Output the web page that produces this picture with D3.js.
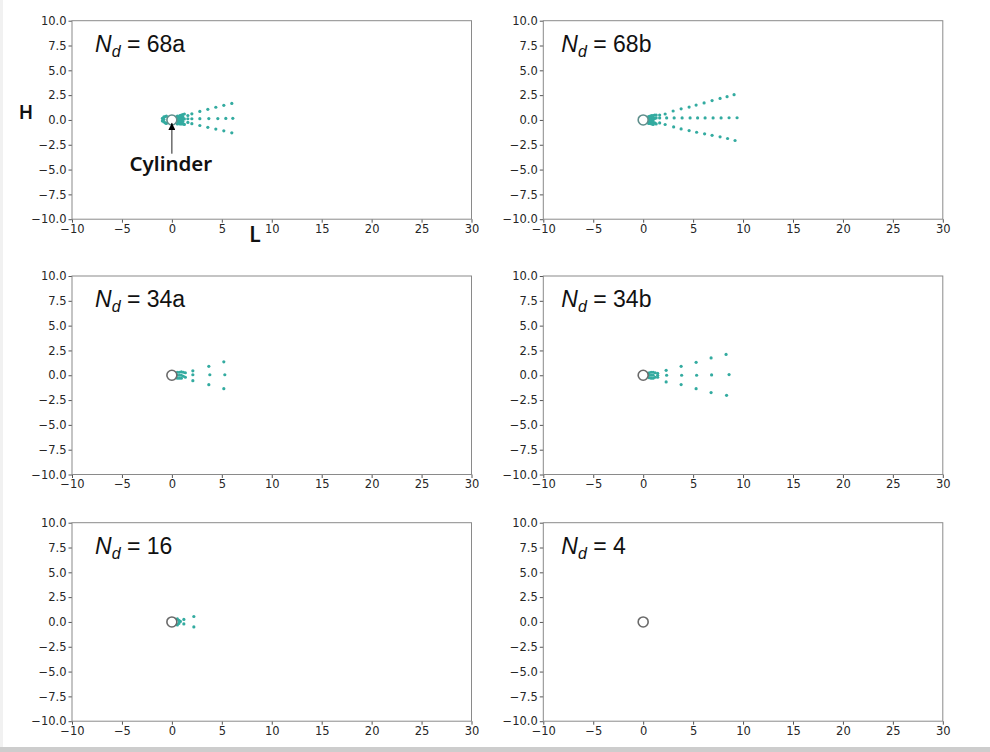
<!DOCTYPE html>
<html>
<head>
<meta charset="utf-8">
<script src="https://cdn.jsdelivr.net/npm/d3@7"></script>
<style>
  body { margin: 0; background: #fff; }
  .tick text { font-family: "DejaVu Sans", sans-serif; font-size: 11.5px; fill: #262626; }
</style>
</head>
<body>
<svg id="chart"></svg>
<script>
// panel labels (N_d values)
var panelNames = ["68a", "68b", "34a", "34b", "16", "4"];

// droplet positions [L, H]
var pts68a = [
  [-0.95, 0.15], [-0.95, -0.1], [-0.8, 0.3], [-0.8, 0.05], [-0.8, -0.2],
  [-0.65, 0.35], [-0.65, -0.3], [-0.55, 0.4], [-0.55, -0.35],
  [0.55, 0.4], [0.55, -0.4], [0.65, 0.3], [0.65, 0.1], [0.65, -0.1], [0.65, -0.3],
  [0.8, 0.45], [0.8, 0.2], [0.8, 0], [0.8, -0.2], [0.8, -0.4],
  [0.95, 0.5], [0.95, 0.25], [0.95, 0.05], [0.95, -0.15], [0.95, -0.4],
  [1.1, 0.55], [1.1, 0.3], [1.1, 0.1], [1.1, -0.15], [1.1, -0.4],
  [1.25, 0.6], [1.25, 0.1], [1.25, -0.45],
  [1.6, 0.45], [1.6, 0.12], [1.6, -0.25],
  [2.0, 0.62], [2.8, 0.86], [3.6, 1.07], [4.4, 1.28], [5.2, 1.47], [6.0, 1.67],
  [2.0, 0.12], [2.8, 0.13], [3.7, 0.14], [4.6, 0.14], [5.4, 0.15], [6.1, 0.16],
  [2.0, -0.38], [2.8, -0.56], [3.6, -0.74], [4.4, -0.92], [5.2, -1.1], [6.0, -1.3]
];
var pts68b = [
  [0.55, 0.35], [0.55, 0.1], [0.55, -0.15], [0.55, -0.35],
  [0.7, 0.4], [0.7, 0.15], [0.7, -0.1], [0.7, -0.35],
  [0.85, 0.45], [0.85, 0.2], [0.85, 0], [0.85, -0.2], [0.85, -0.4],
  [1.0, 0.45], [1.0, 0.2], [1.0, 0], [1.0, -0.25], [1.0, -0.45],
  [1.15, 0.5], [1.15, 0.15], [1.15, -0.3], [1.3, 0.5], [1.3, 0.2], [1.3, -0.4],
  [1.65, 0.5], [1.65, 0.2], [1.65, -0.3],
  [2.2, 0.6], [3.0, 0.9], [3.8, 1.12], [4.6, 1.3], [5.3, 1.5], [6.1, 1.72],
  [6.9, 1.95], [7.7, 2.17], [8.4, 2.35], [9.1, 2.55],
  [2.35, 0.2], [3.1, 0.2], [3.9, 0.2], [4.7, 0.2], [5.45, 0.2], [6.2, 0.2],
  [7.0, 0.2], [7.8, 0.2], [8.6, 0.22], [9.4, 0.22],
  [2.2, -0.46], [3.05, -0.7], [3.8, -0.9], [4.6, -1.07], [5.35, -1.24], [6.15, -1.4],
  [6.9, -1.55], [7.7, -1.7], [8.45, -1.87], [9.2, -2.07]
];
var pts34a = [
  [0.55, 0.3], [0.55, 0], [0.55, -0.3], [0.75, 0.3], [0.75, 0], [0.75, -0.3],
  [0.95, 0.35], [0.95, 0], [0.95, -0.3], [1.15, 0.3], [1.15, -0.1],
  [1.35, 0.25], [1.35, -0.2],
  [2.1, 0.45], [2.1, 0.05], [2.1, -0.55],
  [3.7, 0.9], [3.8, 0.05], [3.7, -0.95],
  [5.2, 1.35], [5.3, 0.05], [5.2, -1.35]
];
var pts34b = [
  [0.6, 0.25], [0.6, 0], [0.6, -0.25], [0.8, 0.3], [0.8, 0], [0.8, -0.3],
  [1.0, 0.3], [1.0, 0], [1.0, -0.3], [1.2, 0.25], [1.2, -0.2],
  [1.45, 0.2], [1.45, 0], [1.45, -0.2],
  [2.3, 0.5], [2.35, 0], [2.3, -0.67],
  [3.8, 0.9], [3.85, 0], [3.8, -0.94],
  [5.3, 1.3], [5.35, 0], [5.3, -1.35],
  [6.8, 1.75], [6.85, 0.03], [6.8, -1.75],
  [8.3, 2.1], [8.6, 0.07], [8.35, -2.02]
];
var pts16 = [
  [0.55, 0.3], [0.55, -0.3], [0.7, 0.15], [0.7, -0.15], [0.85, 0.05],
  [1.2, 0.25], [1.2, -0.2], [2.2, 0.55], [2.2, -0.5]
];
var pts4 = [];
var panelPoints = [pts68a, pts68b, pts34a, pts34b, pts16, pts4];

// cylinder centre and radius
var cylX = 0, cylY = 0, cylR = 0.5;

var xDomain = [-10, 30], yDomain = [-10, 10];
var xTicks = [-10, -5, 0, 5, 10, 15, 20, 25, 30];
var yTicks = [-10, -7.5, -5, -2.5, 0, 2.5, 5, 7.5, 10];

var W = 990, H = 752;
var colX = [72, 543.3], rowY = [20.7, 276, 522.7];
var pw = 399.5, ph = 198.5;
var teal = "#33aba0";

var svg = d3.select("#chart").attr("width", W).attr("height", H);

// photo frame edges
svg.append("rect").attr("width", W).attr("height", H).attr("fill", "#fff");
svg.append("rect").attr("x", 0).attr("y", 0).attr("width", 3).attr("height", H).attr("fill", "#f1f1f1");
svg.append("rect").attr("x", 0).attr("y", 747).attr("width", W).attr("height", 5).attr("fill", "#cdcdcd");

var minus = (s) => s.replace("-", "\u2212");

panelNames.forEach(function (name, i) {
  var col = i % 2, row = Math.floor(i / 2);
  var g = svg.append("g").attr("transform", `translate(${colX[col]},${rowY[row]})`);
  var x = d3.scaleLinear().domain(xDomain).range([0, pw]);
  var y = d3.scaleLinear().domain(yDomain).range([ph, 0]);

  var xa = g.append("g").attr("transform", `translate(0,${ph})`)
    .call(d3.axisBottom(x).tickValues(xTicks).tickSizeOuter(0).tickSize(3.5).tickPadding(2)
      .tickFormat((d) => minus(d3.format("d")(d))));
  var ya = g.append("g")
    .call(d3.axisLeft(y).tickValues(yTicks).tickSizeOuter(0).tickSize(3.5).tickPadding(2)
      .tickFormat((d) => minus(d3.format(".1f")(d))));
  [xa, ya].forEach(function (a) {
    a.select(".domain").remove();
    a.selectAll(".tick line").attr("stroke", "#555");
  });

  g.append("rect").attr("width", pw).attr("height", ph)
    .attr("fill", "none").attr("stroke", "#8a8a8a").attr("stroke-width", 1);

  g.selectAll("circle.drop").data(panelPoints[i]).enter().append("circle")
    .attr("class", "drop")
    .attr("cx", (d) => x(d[0])).attr("cy", (d) => y(d[1]))
    .attr("r", 1.6).attr("fill", teal);

  g.append("circle")
    .attr("cx", x(cylX)).attr("cy", y(cylY))
    .attr("r", x(cylX + cylR) - x(cylX))
    .attr("fill", "#fff").attr("stroke", i < 2 ? "#5f8f8c" : "#6a6a6a").attr("stroke-width", 1.6);

  var t = g.append("text").attr("x", col == 0 ? 23 : 18).attr("y", 31)
    .attr("font-family", "Liberation Sans, Arial, sans-serif").attr("font-size", 23).attr("fill", "#111");
  t.append("tspan").attr("font-style", "italic").text("N");
  t.append("tspan").attr("font-style", "italic").attr("font-size", 16).attr("dy", 5).text("d");
  t.append("tspan").attr("dy", -5).text(" = " + name);

  if (i == 0) {
    // cylinder annotation
    g.append("defs").append("marker").attr("id", "ah")
      .attr("viewBox", "0 0 10 10").attr("refX", 10).attr("refY", 5)
      .attr("markerWidth", 7).attr("markerHeight", 7).attr("orient", "auto")
      .append("path").attr("d", "M0,0L10,5L0,10Z").attr("fill", "#000");
    g.append("line")
      .attr("x1", x(cylX)).attr("y1", y(-3.4))
      .attr("x2", x(cylX)).attr("y2", y(-0.3))
      .attr("stroke", "#222").attr("stroke-width", 1).attr("marker-end", "url(#ah)");
    g.append("text").attr("x", x(cylX) - 1).attr("y", y(-5.1))
      .attr("text-anchor", "middle")
      .attr("font-family", "Noto Sans, sans-serif").attr("font-weight", 600)
      .attr("font-size", 20.5).attr("fill", "#111").text("Cylinder");
    svg.append("text").attr("x", 26).attr("y", 119).attr("text-anchor", "middle")
      .attr("font-family", "Noto Sans, sans-serif").attr("font-weight", 600)
      .attr("font-size", 19).attr("fill", "#111").text("H");
    svg.append("text").attr("x", 255).attr("y", 242).attr("text-anchor", "middle")
      .attr("font-family", "Noto Sans, sans-serif").attr("font-weight", 600)
      .attr("font-size", 21).attr("fill", "#111").text("L");
  }
});
</script>
</body>
</html>
